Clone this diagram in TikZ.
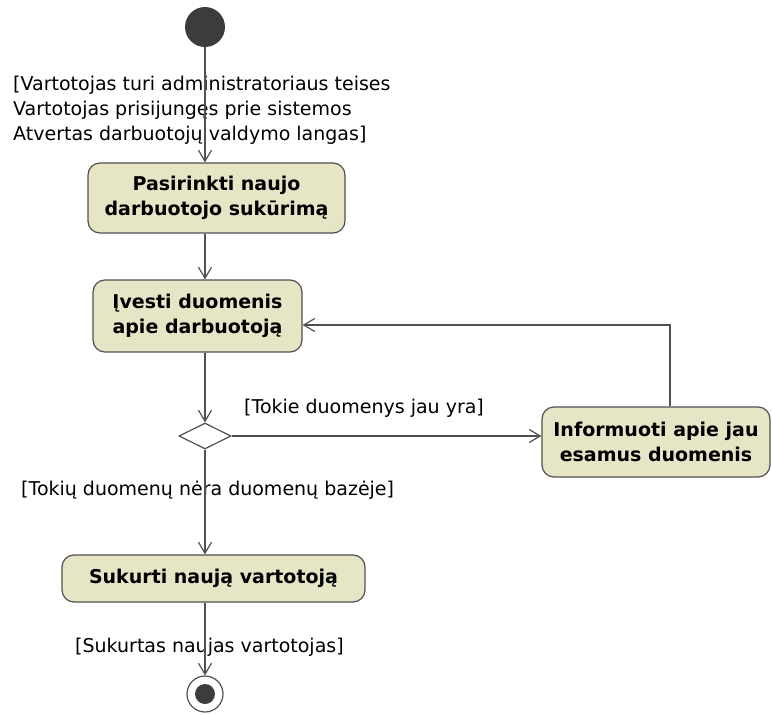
\documentclass[tikz,border=0pt]{standalone}
\usepackage{fontspec}
\setmainfont{DejaVu Sans}
\usetikzlibrary{shapes.geometric,arrows.meta}
\definecolor{actfill}{RGB}{230,229,198}
\definecolor{edgegray}{RGB}{80,80,80}
\definecolor{dotgray}{RGB}{60,60,60}
\tikzset{
  action/.style={draw=edgegray, line width=1.2pt, fill=actfill, rounded corners=12pt,
    align=center, font=\fontsize{19}{25}\selectfont\bfseries, inner sep=0pt},
  guard/.style={align=left, font=\fontsize{19}{25}\selectfont, inner sep=0pt, anchor=west},
  flow/.style={draw=edgegray, line width=1.2pt, -{Straight Barb[length=11pt,width=13pt]}},
}
\begin{document}
\begin{tikzpicture}[x=1pt,y=-1pt]
        \useasboundingbox (0,0) rectangle (772,715);
        % start and end
        \node[circle, fill=dotgray, minimum size=40pt, inner sep=0pt] (start) at (205,27) {};
        \node[circle, draw=edgegray, line width=1.2pt, fill=white, minimum size=36pt, inner sep=0pt] (final) at (205,694) {};
        \fill[dotgray] (final) circle (10pt);
        % actions
        \node[action, minimum width=257pt, minimum height=70pt] (choose) at (216.5,198) {Pasirinkti naujo\\darbuotojo sukūrimą};
        \node[action, minimum width=209pt, minimum height=72pt] (enter) at (197.5,316) {Įvesti duomenis\\apie darbuotoją};
        \node[action, minimum width=228pt, minimum height=70pt] (inform) at (656,442) {Informuoti apie jau\\esamus duomenis};
        \node[action, minimum width=303pt, minimum height=47pt] (create) at (213.5,578.5) {Sukurti naują vartotoją};
        \node[diamond, aspect=2, draw=edgegray, line width=1.2pt, fill=white, minimum width=52pt, minimum height=26pt, inner sep=0pt] (dec) at (205,436) {};
        % guards
        \node[guard] (gstart) at (13,110) {[Vartotojas turi administratoriaus teises\\Vartotojas prisijungęs prie sistemos\\Atvertas darbuotojų valdymo langas]};
        \node[guard] (gyes) at (244,408) {[Tokie duomenys jau yra]};
        \node[guard] (gno) at (21,490) {[Tokių duomenų nėra duomenų bazėje]};
        \node[guard] (gdone) at (75,647) {[Sukurtas naujas vartotojas]};
        % flows
        \coordinate (back) at (670,325);
        \draw[flow] (start) -- (start |- choose.north);
        \draw[flow] (start |- choose.south) -- (start |- enter.north);
        \draw[flow] (dec |- enter.south) -- (dec.north);
        \draw[flow] (dec.east) -- (dec.east -| inform.west);
        \draw[flow] (inform.north -| back) -- (back) -- (back -| enter.east);
        \draw[flow] (dec.south) -- (dec |- create.north);
        \draw[flow] (final |- create.south) -- (final.north);
\end{tikzpicture}
\end{document}
